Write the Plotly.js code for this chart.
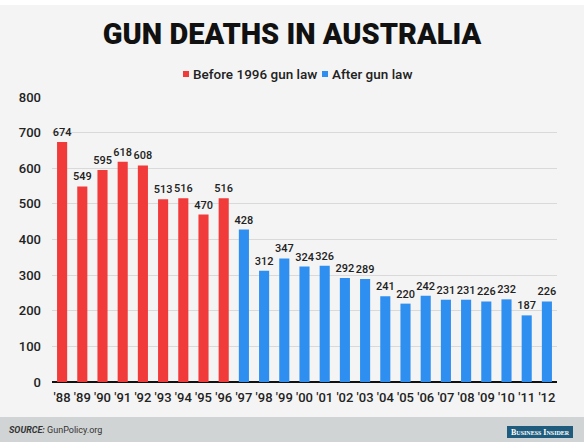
<!DOCTYPE html>
<html>
<head>
<meta charset="utf-8">
<script src="https://cdn.plot.ly/plotly-3.0.1.min.js"></script>
<style>html,body{margin:0;padding:0;background:#f4f4f4;}#chart{width:584px;height:442px;}</style>
</head>
<body>
<div id="chart"></div>
<script>
const yearsBefore = ["'88","'89","'90","'91","'92","'93","'94","'95","'96"];
const deathsBefore = [674,549,595,618,608,513,516,470,516];
const yearsAfter = ["'97","'98","'99","'00","'01","'02","'03","'04","'05","'06","'07","'08","'09","'10","'11","'12"];
const deathsAfter = [428,312,347,324,326,292,289,241,220,242,231,231,226,232,187,226];
const yTicks = [0,100,200,300,400,500,600,700,800];

const W = 584, H = 442;
const L = 52, R = 557, T = 97, B = 382;
const px2x = p => (p - L) / (R - L);
const px2y = p => (B - p) / (B - T);

const RED = '#f03b3a', BLUE = '#2f8ff0';
const FONT = 'Roboto, "Noto Sans", sans-serif';
const MED = '"Roboto Medium", Roboto, "Noto Sans", sans-serif';

const traces = [
  {type:'bar', x:yearsBefore, y:deathsBefore, name:'Before 1996 gun law',
   marker:{color:RED}, text:deathsBefore.map(String), textposition:'outside', constraintext:'none',
   textfont:{family:MED,size:11,color:'#222'}, cliponaxis:false, hoverinfo:'x+y'},
  {type:'bar', x:yearsAfter, y:deathsAfter, name:'After gun law',
   marker:{color:BLUE}, text:deathsAfter.map(String), textposition:'outside', constraintext:'none',
   textfont:{family:MED,size:11,color:'#222'}, cliponaxis:false, hoverinfo:'x+y'}
];

const layout = {
  width:W, height:H,
  margin:{l:L, r:W-R, t:T, b:H-B, pad:0},
  paper_bgcolor:'#f4f4f4', plot_bgcolor:'#f4f4f4',
  showlegend:false,
  barmode:'overlay', bargap:0.5,
  font:{family:FONT, color:'#222'},
  title:{text:'GUN DEATHS IN AUSTRALIA', font:{family:FONT, size:29, color:'#111', weight:900},
         x:0.5, xanchor:'center', y:1-34/H, yanchor:'middle', yref:'container'},
  xaxis:{type:'category', categoryorder:'array', categoryarray:yearsBefore.concat(yearsAfter),
         showgrid:false, showline:false, ticks:'', ticklabelstandoff:6, fixedrange:true,
         tickfont:{family:FONT,size:13,color:'#222',weight:500}},
  yaxis:{range:[0,800], tickvals:yTicks, ticktext:yTicks.map(String), showgrid:true,
         gridcolor:'#d9d9d9', gridwidth:1, zeroline:true, zerolinecolor:'#111', zerolinewidth:2,
         showline:false, ticks:'', ticklabelstandoff:10, fixedrange:true,
         tickfont:{family:FONT,size:13,color:'#222',weight:500}},
  shapes:[
    {type:'rect', xref:'paper', yref:'paper', x0:px2x(-10), x1:px2x(W+10), y0:px2y(H+10), y1:px2y(417),
     fillcolor:'#d1d4d5', line:{width:0}, layer:'below'},
    {type:'rect', xref:'paper', yref:'paper', x0:px2x(-10), x1:px2x(W+10), y0:px2y(5), y1:px2y(-10),
     fillcolor:'#ffffff', line:{width:0}, layer:'below'},
    {type:'rect', xref:'paper', yref:'paper', x0:px2x(183), x1:px2x(189), y0:px2y(77), y1:px2y(71),
     fillcolor:RED, line:{width:0}},
    {type:'rect', xref:'paper', yref:'paper', x0:px2x(322), x1:px2x(328), y0:px2y(77), y1:px2y(71),
     fillcolor:BLUE, line:{width:0}},
    {type:'rect', xref:'paper', yref:'paper', x0:px2x(507), x1:px2x(573), y0:px2y(438), y1:px2y(426),
     fillcolor:'#1f5b7c', line:{width:0}}
  ],
  annotations:[
    {xref:'paper', yref:'paper', x:px2x(191), y:px2y(74), xanchor:'left', yanchor:'middle',
     text:'Before 1996 gun law', showarrow:false, font:{family:MED,size:13.5,color:'#222'}},
    {xref:'paper', yref:'paper', x:px2x(330), y:px2y(74), xanchor:'left', yanchor:'middle',
     text:'After gun law', showarrow:false, font:{family:MED,size:13.5,color:'#222'}},
    {xref:'paper', yref:'paper', x:px2x(7), y:px2y(430), xanchor:'left', yanchor:'middle',
     text:'<b><i>SOURCE:</i></b> GunPolicy.org', showarrow:false, font:{family:FONT,size:9,color:'#333'}},
    {xref:'paper', yref:'paper', x:px2x(540), y:px2y(432), xanchor:'center', yanchor:'middle',
     text:'B<span style="font-size:6px">USINESS</span> I<span style="font-size:6px">NSIDER</span>', showarrow:false,
     font:{family:'"Liberation Serif", "DejaVu Serif", serif',size:8,color:'#ffffff',weight:'bold'}}
  ]
};

Plotly.newPlot('chart', traces, layout, {displayModeBar:false, staticPlot:true});
</script>
</body>
</html>
